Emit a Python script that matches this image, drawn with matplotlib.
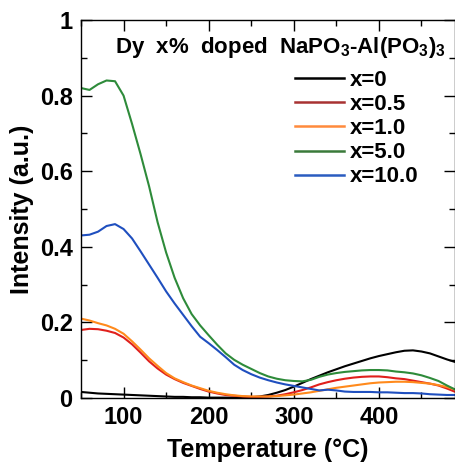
import matplotlib
matplotlib.use("Agg")
import matplotlib.pyplot as plt
from matplotlib.ticker import MultipleLocator, FuncFormatter

plt.rcParams['font.family'] = ['Liberation Sans', 'DejaVu Sans']
plt.rcParams['font.weight'] = 'bold'
plt.rcParams['mathtext.default'] = 'regular'

# Temperature grid (°C)
temperature = list(range(50, 500, 10))

# Thermoluminescence intensity (a.u.) for each Dy doping level
x_0 = [0.016, 0.014, 0.012, 0.011, 0.010, 0.009, 0.008, 0.007, 0.006, 0.005,
       0.004, 0.003, 0.003, 0.002, 0.002, 0.001, 0.001, 0.001, 0.001, 0.001,
       0.002, 0.004, 0.008, 0.014, 0.021, 0.030, 0.040, 0.050, 0.059, 0.068,
       0.076, 0.084, 0.091, 0.098, 0.105, 0.111, 0.116, 0.121, 0.125, 0.126,
       0.123, 0.118, 0.110, 0.102, 0.095]
x_05 = [0.180, 0.183, 0.182, 0.178, 0.172, 0.160, 0.142, 0.120, 0.097, 0.078,
        0.062, 0.050, 0.040, 0.032, 0.024, 0.017, 0.012, 0.008, 0.006, 0.004,
        0.003, 0.003, 0.004, 0.006, 0.010, 0.015, 0.021, 0.028, 0.036, 0.042,
        0.047, 0.051, 0.054, 0.056, 0.057, 0.057, 0.055, 0.052, 0.050, 0.046,
        0.042, 0.038, 0.033, 0.025, 0.016]
x_10 = [0.210, 0.205, 0.198, 0.192, 0.183, 0.170, 0.150, 0.128, 0.105, 0.085,
        0.066, 0.052, 0.042, 0.033, 0.026, 0.019, 0.014, 0.010, 0.007, 0.005,
        0.004, 0.004, 0.004, 0.005, 0.007, 0.009, 0.012, 0.015, 0.019, 0.023,
        0.027, 0.030, 0.033, 0.036, 0.039, 0.041, 0.042, 0.043, 0.043, 0.042,
        0.040, 0.038, 0.034, 0.029, 0.022]
x_50 = [0.820, 0.815, 0.830, 0.840, 0.838, 0.800, 0.725, 0.645, 0.560, 0.465,
        0.385, 0.318, 0.264, 0.222, 0.192, 0.166, 0.141, 0.118, 0.101, 0.088,
        0.077, 0.066, 0.057, 0.051, 0.047, 0.045, 0.044, 0.048, 0.056, 0.062,
        0.066, 0.069, 0.071, 0.073, 0.074, 0.074, 0.073, 0.070, 0.068, 0.065,
        0.060, 0.053, 0.045, 0.033, 0.022]
x_100 = [0.430, 0.432, 0.440, 0.455, 0.460, 0.447, 0.422, 0.388, 0.353, 0.318,
         0.282, 0.250, 0.220, 0.190, 0.162, 0.145, 0.127, 0.108, 0.088, 0.074,
         0.063, 0.054, 0.047, 0.041, 0.036, 0.032, 0.028, 0.024, 0.020, 0.022,
         0.020, 0.017, 0.016, 0.016, 0.016, 0.015, 0.015, 0.014, 0.013, 0.013,
         0.012, 0.010, 0.009, 0.008, 0.008]

series = [x_0, x_05, x_10, x_50, x_100]
labels = ['x=0', 'x=0.5', 'x=1.0', 'x=5.0', 'x=10.0']
colors = ['#000000', '#e0201c', '#ff8a1c', '#2e8b3a', '#1f4fbf']
legend_colors = ['#000000', '#a83232', '#ff8a3c', '#3a7a3a', '#2a5cc0']

W, H = 456, 465
fig = plt.figure(figsize=(W / 100, H / 100), dpi=100)
ax = fig.add_axes([81 / W, 1 - 398 / H, (455.5 - 81) / W, (398 - 20) / H])

for vals, c in zip(series, colors):
    ax.plot(temperature, vals, color=c, lw=1.5)

ax.set_xlim(50, 490)
ax.set_ylim(0, 1)
ax.xaxis.set_major_locator(MultipleLocator(100))
ax.xaxis.set_minor_locator(MultipleLocator(50))
ax.yaxis.set_major_locator(MultipleLocator(0.2))
ax.yaxis.set_minor_locator(MultipleLocator(0.1))
ax.yaxis.set_major_formatter(FuncFormatter(lambda v, p: f"{v:g}"))
ax.tick_params(which='both', direction='in', top=True, right=True, width=1.0)
ax.tick_params(which='major', length=8, labelsize=17, pad=6)
ax.tick_params(which='minor', length=4.5)
for lab in ax.get_xticklabels() + ax.get_yticklabels():
    lab.set_fontweight('bold')
for sp in ax.spines.values():
    sp.set_linewidth(1.0)

ax.set_xlabel('Temperature (°C)', fontsize=18, fontweight='bold', labelpad=6)
ax.set_ylabel('Intensity (a.u.)', fontsize=18, fontweight='bold', labelpad=4)

ax.text(115 / W, 1 - 53 / H, 'Dy  x%  doped  NaPO$_3$-Al(PO$_3$)$_3$',
        transform=fig.transFigure, fontsize=16, fontweight='bold',
        ha='left', va='baseline')

handles = [plt.Line2D([], [], color=c, lw=1.8) for c in legend_colors]
leg = ax.legend(handles, labels, loc='upper left',
                bbox_to_anchor=(295 / W, 1 - 70 / H),
                bbox_transform=fig.transFigure, frameon=False,
                prop={'size': 16, 'weight': 'bold'}, handlelength=2.2,
                handletextpad=0.28, labelspacing=0.14, borderpad=0,
                borderaxespad=0)

fig.savefig('out.png', dpi=100)
